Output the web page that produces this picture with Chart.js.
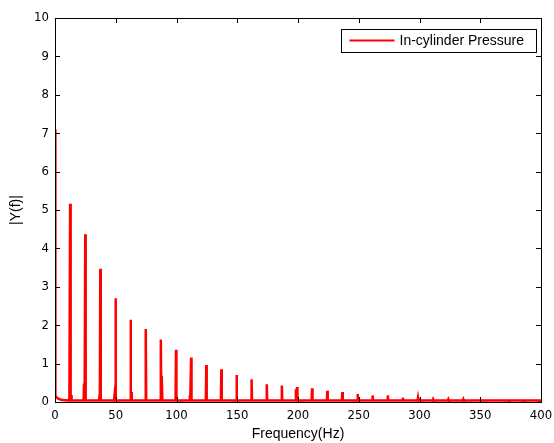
<!DOCTYPE html>
<html>
<head>
<meta charset="utf-8">
<script src="https://cdn.jsdelivr.net/npm/chart.js@4/dist/chart.umd.min.js"></script>
<style>
  html, body { margin: 0; padding: 0; background: #fff; }
  #wrap { width: 554px; height: 443px; }
</style>
</head>
<body>
<div id="wrap"><canvas id="myChart" width="554" height="443"></canvas></div>
<script>
// harmonic peaks
const peakFreqs = [12.45, 24.9, 37.3, 49.8, 62.2, 74.7, 87.1, 99.6, 112.0, 124.5,
  136.9, 149.4, 161.8, 174.3, 186.7, 199.2, 211.6, 224.1, 236.5, 249.0,
  261.4, 273.9, 286.3, 298.8, 311.2, 323.7, 336.1, 348.6, 361.0, 373.5, 385.9, 398.4];
const peakValues = [5.16, 4.37, 3.47, 2.70, 2.14, 1.90, 1.63, 1.36, 1.16, 0.96,
  0.85, 0.70, 0.59, 0.46, 0.43, 0.39, 0.36, 0.29, 0.26, 0.21,
  0.17, 0.17, 0.11, 0.11, 0.07, 0.07, 0.07, 0.05, 0.04, 0.03, 0.03, 0.03];

// small side lobes next to some harmonics
const sideFreqs = [11.5, 13.3, 23.9, 36.5, 48.9, 63.0, 88.0, 111.0, 198.3];
const sideValues = [0.10, 0.18, 0.48, 0.12, 0.15, 0.26, 0.68, 0.18, 0.33];

// DC part at the start
const lowFreqs = [0, 0.3, 1, 2, 4, 6];
const lowValues = [7.1, 0.15, 0.13, 0.10, 0.07, 0.05];

const noiseFloor = 0.04;
const xTicks = [0, 50, 100, 150, 200, 250, 300, 350, 400];
const yTicks = [0, 1, 2, 3, 4, 5, 6, 7, 8, 9, 10];
const seriesLabel = "In-cylinder Pressure";

// build the trace: each spike goes floor -> value -> floor
const spikes = [];
peakFreqs.forEach((f, i) => spikes.push([f, peakValues[i]]));
sideFreqs.forEach((f, i) => spikes.push([f, sideValues[i]]));
spikes.sort((a, b) => a[0] - b[0]);

const points = lowFreqs.map((f, i) => ({ x: f, y: lowValues[i] }));
for (const [f, v] of spikes) {
  points.push({ x: f - 0.35, y: noiseFloor });
  points.push({ x: f, y: v });
  points.push({ x: f + 0.35, y: noiseFloor });
}
points.push({ x: 400, y: noiseFloor });

const tickFont = { family: "'Liberation Sans Narrow', 'DejaVu Sans Condensed', 'Liberation Sans', sans-serif", size: 13 };
const labelFont = { family: "'Liberation Sans', Arial, sans-serif", size: 14 };

// matlab style box, inward ticks and boxed legend
const matlabAxes = {
  id: "matlabAxes",
  afterDatasetsDraw(chart) {
    const { ctx, chartArea: a, scales } = chart;
    ctx.save();
    ctx.strokeStyle = "#000";
    ctx.lineWidth = 1;
    ctx.beginPath();
    for (const v of xTicks) {
      const px = Math.round(scales.x.getPixelForValue(v)) + 0.5;
      ctx.moveTo(px, a.bottom); ctx.lineTo(px, a.bottom - 5);
      ctx.moveTo(px, a.top); ctx.lineTo(px, a.top + 5);
    }
    for (const v of yTicks) {
      const py = Math.round(scales.y.getPixelForValue(v)) + 0.5;
      ctx.moveTo(a.left, py); ctx.lineTo(a.left + 5, py);
      ctx.moveTo(a.right, py); ctx.lineTo(a.right - 5, py);
    }
    ctx.stroke();
    ctx.strokeRect(Math.round(a.left) + 0.5, Math.round(a.top) + 0.5,
      Math.round(a.right - a.left), Math.round(a.bottom - a.top));

    // legend
    const bx = Math.round(a.right) - 199.5, by = Math.round(a.top) + 11.5;
    const bw = 195, bh = 23;
    ctx.fillStyle = "#fff";
    ctx.fillRect(bx, by, bw, bh);
    ctx.strokeRect(bx, by, bw, bh);
    ctx.strokeStyle = "#ff0000";
    ctx.lineWidth = 2;
    ctx.beginPath();
    ctx.moveTo(bx + 8, by + 11);
    ctx.lineTo(bx + 53, by + 11);
    ctx.stroke();
    ctx.fillStyle = "#000";
    ctx.font = "14px 'Liberation Sans', Arial, sans-serif";
    ctx.textBaseline = "middle";
    ctx.textAlign = "left";
    ctx.fillText(seriesLabel, bx + 58, by + 12);
    ctx.restore();
  }
};

const ctx = document.getElementById("myChart");

new Chart(ctx, {
  type: "scatter",
  data: {
    datasets: [
      {
        label: seriesLabel,
        data: points,
        showLine: true,
        borderColor: "#ff0000",
        backgroundColor: "#ff0000",
        borderWidth: 2.5,
        pointRadius: 0,
        tension: 0,
      },
    ],
  },
  options: {
    responsive: false,
    animation: false,
    layout: { padding: { top: 18, right: 13, left: 0, bottom: 0 } },
    plugins: {
      legend: { display: false },
      tooltip: { enabled: false },
    },
    scales: {
      x: {
        type: "linear",
        min: 0,
        max: 400,
        afterBuildTicks: (s) => { s.ticks = xTicks.map((v) => ({ value: v })); },
        afterFit: (s) => { s.height = 41; s.paddingLeft = 0; s.paddingRight = 0; },
        grid: { display: false, drawTicks: false },
        border: { display: false },
        ticks: { color: "#000", font: tickFont, padding: 6, maxRotation: 0 },
        title: { display: true, text: "Frequency(Hz)", color: "#000", font: labelFont, padding: { top: 2, bottom: 0 } },
      },
      y: {
        min: 0,
        max: 10,
        afterBuildTicks: (s) => { s.ticks = yTicks.map((v) => ({ value: v })); },
        afterFit: (s) => { s.width = 55; s.paddingTop = 0; s.paddingBottom = 0; },
        grid: { display: false, drawTicks: false },
        border: { display: false },
        ticks: { color: "#000", font: tickFont, padding: 6 },
        title: { display: true, text: "|Y(f)|", color: "#000", font: labelFont, padding: { top: 8, bottom: 0 } },
      },
    },
  },
  plugins: [matlabAxes],
});
</script>
</body>
</html>
